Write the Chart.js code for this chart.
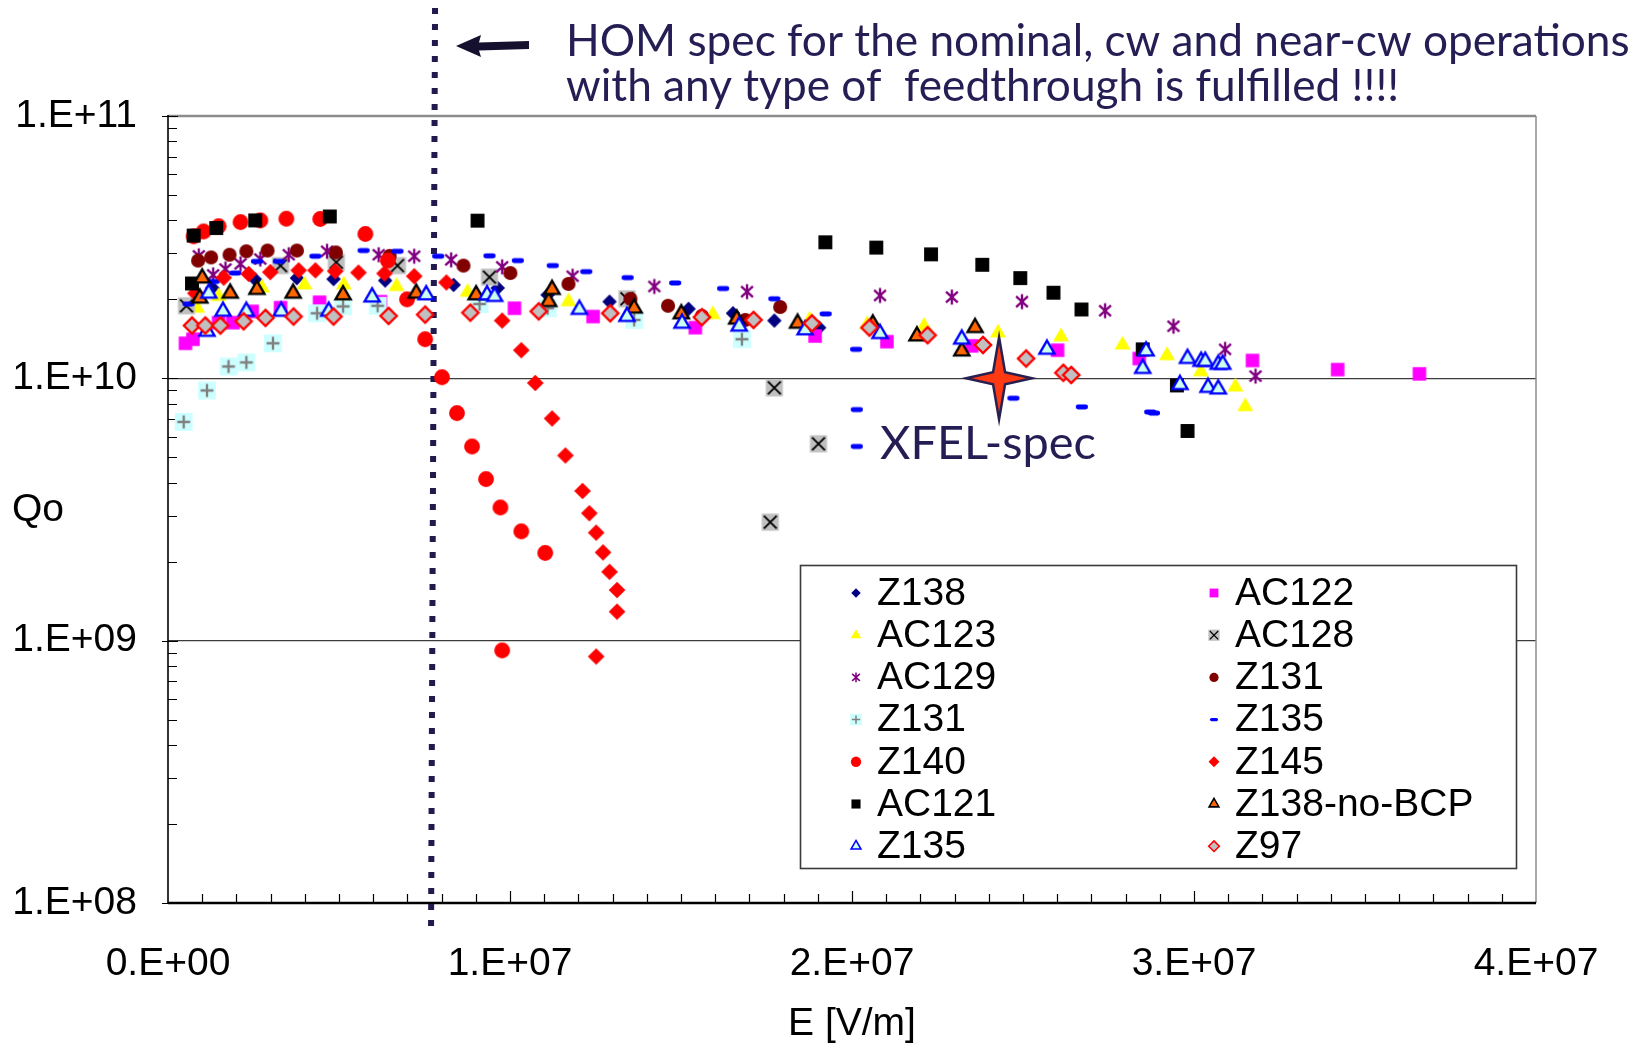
<!DOCTYPE html>
<html>
<head>
<meta charset="utf-8">
<script src="https://cdn.jsdelivr.net/npm/chart.js@4.4.1/dist/chart.umd.min.js"></script>
<style>
html, body { margin: 0; padding: 0; background: #fff; }
#c { display: block; }
</style>
</head>
<body>
<canvas id="c" width="1643" height="1046"></canvas>
<script>
// E [V/m] and Qo
var z138E = [1.30e6, 2.55e6, 3.77e6, 4.84e6, 6.35e6, 8.35e6, 9.64e6, 1.110e7, 1.291e7, 1.522e7, 1.652e7, 1.773e7, 1.904e7];
var z138Q = [2.21e10, 2.38e10, 2.41e10, 2.39e10, 2.36e10, 2.27e10, 2.21e10, 2.08e10, 1.96e10, 1.84e10, 1.77e10, 1.66e10, 1.56e10];

var ac122E = [5.1e5, 7.3e5, 1.48e6, 1.90e6, 2.46e6, 3.29e6, 4.43e6, 6.21e6, 1.013e7, 1.243e7, 1.542e7, 1.892e7, 2.102e7, 2.350e7, 2.601e7, 2.840e7, 3.171e7, 3.420e7, 3.659e7];
var ac122Q = [1.36e10, 1.41e10, 1.63e10, 1.63e10, 1.80e10, 1.86e10, 1.95e10, 1.96e10, 1.85e10, 1.72e10, 1.56e10, 1.45e10, 1.38e10, 1.33e10, 1.28e10, 1.19e10, 1.17e10, 1.08e10, 1.04e10];

var ac123E = [8.5e5, 1.48e6, 2.75e6, 3.99e6, 5.14e6, 6.68e6, 8.76e6, 1.171e7, 1.593e7, 1.876e7, 2.044e7, 2.211e7, 2.427e7, 2.611e7, 2.791e7, 2.921e7, 3.020e7, 3.121e7, 3.150e7];
var ac123Q = [1.85e10, 2.05e10, 2.21e10, 2.27e10, 2.27e10, 2.24e10, 2.13e10, 1.96e10, 1.75e10, 1.67e10, 1.60e10, 1.58e10, 1.49e10, 1.44e10, 1.34e10, 1.22e10, 1.06e10, 9.27e9, 7.8e9];

var ac128E = [5.4e5, 3.29e6, 4.92e6, 6.71e6, 9.40e6, 1.342e7, 1.773e7, 1.902e7, 1.761e7];
var ac128Q = [1.89e10, 2.69e10, 2.77e10, 2.69e10, 2.43e10, 2.01e10, 9.2e9, 5.63e9, 2.83e9];

var ac129E = [9.0e5, 1.32e6, 1.68e6, 2.12e6, 2.70e6, 3.53e6, 4.65e6, 6.16e6, 7.20e6, 8.28e6, 9.77e6, 1.183e7, 1.422e7, 1.693e7, 2.082e7, 2.292e7, 2.497e7, 2.740e7, 2.940e7, 3.091e7, 3.180e7];
var ac129Q = [2.93e10, 2.48e10, 2.61e10, 2.73e10, 2.85e10, 2.96e10, 3.05e10, 2.96e10, 2.92e10, 2.83e10, 2.66e10, 2.45e10, 2.24e10, 2.14e10, 2.07e10, 2.04e10, 1.96e10, 1.81e10, 1.58e10, 1.29e10, 1.02e10];

var z131E = [8.8e5, 1.26e6, 1.80e6, 2.29e6, 2.91e6, 3.77e6, 4.91e6, 6.48e6, 8.64e6, 1.001e7, 1.171e7, 1.352e7, 1.462e7, 1.561e7, 1.688e7, 1.790e7];
var z131Q = [2.81e10, 2.89e10, 2.96e10, 3.05e10, 3.07e10, 3.07e10, 3.02e10, 2.93e10, 2.69e10, 2.52e10, 2.29e10, 2.01e10, 1.89e10, 1.73e10, 1.67e10, 1.87e10];

var z131bE = [4.6e5, 1.14e6, 1.77e6, 2.29e6, 3.07e6, 4.36e6, 5.12e6, 6.13e6, 9.11e6, 1.110e7, 1.363e7, 1.678e7];
var z131bQ = [6.82e9, 8.99e9, 1.11e10, 1.15e10, 1.36e10, 1.77e10, 1.88e10, 1.89e10, 1.92e10, 1.85e10, 1.67e10, 1.41e10];

var z135E = [6.0e5, 1.34e6, 1.97e6, 2.60e6, 3.24e6, 4.31e6, 5.72e6, 6.71e6, 7.90e6, 9.40e6, 1.023e7, 1.125e7, 1.223e7, 1.344e7, 1.483e7, 1.623e7, 1.773e7, 1.923e7, 2.012e7, 2.014e7, 2.014e7, 2.472e7, 2.672e7, 2.872e7, 2.883e7];
var z135Q = [1.92e10, 2.34e10, 2.52e10, 2.79e10, 2.79e10, 2.92e10, 3.07e10, 3.05e10, 2.92e10, 2.93e10, 2.81e10, 2.69e10, 2.55e10, 2.42e10, 2.31e10, 2.20e10, 2.01e10, 1.76e10, 1.29e10, 7.6e9, 5.5e9, 8.4e9, 7.78e9, 7.44e9, 7.37e9];

var z140E = [7.5e5, 1.04e6, 1.48e6, 2.12e6, 2.70e6, 3.46e6, 4.45e6, 5.77e6, 6.43e6, 6.99e6, 7.52e6, 8.01e6, 8.45e6, 8.89e6, 9.30e6, 9.72e6, 1.033e7, 1.103e7, 9.77e6];
var z140Q = [3.48e10, 3.63e10, 3.80e10, 3.94e10, 4.00e10, 4.06e10, 4.05e10, 3.55e10, 2.81e10, 2.00e10, 1.41e10, 1.01e10, 7.37e9, 5.5e9, 4.13e9, 3.22e9, 2.61e9, 2.16e9, 9.18e8];

var z145E = [8.0e5, 1.63e6, 2.36e6, 2.99e6, 3.82e6, 4.31e6, 4.89e6, 5.57e6, 6.33e6, 7.20e6, 8.14e6, 9.77e6, 1.033e7, 1.074e7, 1.123e7, 1.162e7, 1.212e7, 1.232e7, 1.252e7, 1.272e7, 1.291e7, 1.313e7, 1.313e7, 1.252e7];
var z145Q = [2.11e10, 2.42e10, 2.50e10, 2.54e10, 2.58e10, 2.58e10, 2.56e10, 2.53e10, 2.51e10, 2.45e10, 2.32e10, 1.66e10, 1.28e10, 9.6e9, 7.03e9, 5.08e9, 3.72e9, 3.06e9, 2.58e9, 2.17e9, 1.83e9, 1.56e9, 1.29e9, 8.7e8];

var ac121E = [7.0e5, 7.5e5, 1.41e6, 2.55e6, 4.73e6, 9.05e6, 1.922e7, 2.071e7, 2.231e7, 2.381e7, 2.492e7, 2.589e7, 2.671e7, 2.850e7, 2.950e7, 2.981e7];
var ac121Q = [2.30e10, 3.50e10, 3.74e10, 4.00e10, 4.14e10, 3.99e10, 3.30e10, 3.15e10, 2.97e10, 2.71e10, 2.41e10, 2.12e10, 1.83e10, 1.29e10, 9.4e9, 6.3e9];

var z138nE = [9.3e5, 1.00e6, 1.82e6, 2.60e6, 3.66e6, 5.12e6, 7.26e6, 9.01e6, 1.113e7, 1.123e7, 1.363e7, 1.501e7, 1.663e7, 1.841e7, 2.061e7, 2.190e7, 2.321e7, 2.360e7];
var z138nQ = [2.02e10, 2.41e10, 2.11e10, 2.18e10, 2.11e10, 2.08e10, 2.11e10, 2.08e10, 1.96e10, 2.18e10, 1.85e10, 1.76e10, 1.68e10, 1.62e10, 1.61e10, 1.45e10, 1.27e10, 1.56e10];

var z135tE = [1.14e6, 1.19e6, 1.61e6, 2.29e6, 3.31e6, 4.70e6, 5.97e6, 7.55e6, 9.33e6, 9.55e6, 1.203e7, 1.342e7, 1.503e7, 1.670e7, 1.863e7, 2.082e7, 2.321e7, 2.570e7, 2.850e7, 2.860e7, 2.959e7, 2.981e7, 3.021e7, 3.033e7, 3.041e7, 3.071e7, 3.084e7, 3.071e7];
var z135tQ = [1.51e10, 2.11e10, 1.80e10, 1.80e10, 1.80e10, 1.80e10, 2.04e10, 2.08e10, 2.08e10, 2.05e10, 1.83e10, 1.72e10, 1.62e10, 1.58e10, 1.53e10, 1.48e10, 1.41e10, 1.29e10, 1.09e10, 1.27e10, 9.46e9, 1.19e10, 1.16e10, 1.16e10, 9.23e9, 1.13e10, 1.13e10, 9.10e9];

var z97E = [7.0e5, 1.09e6, 1.53e6, 2.21e6, 2.85e6, 3.67e6, 4.84e6, 6.45e6, 7.52e6, 8.84e6, 1.084e7, 1.293e7, 1.561e7, 1.712e7, 1.883e7, 2.051e7, 2.221e7, 2.383e7, 2.509e7, 2.618e7, 2.641e7];
var z97Q = [1.59e10, 1.59e10, 1.59e10, 1.65e10, 1.70e10, 1.72e10, 1.72e10, 1.73e10, 1.75e10, 1.78e10, 1.80e10, 1.77e10, 1.71e10, 1.67e10, 1.62e10, 1.56e10, 1.46e10, 1.34e10, 1.19e10, 1.05e10, 1.03e10];

// legend order (Excel fills the two columns row by row)
var seriesNames = ['Z138', 'AC122', 'AC123', 'AC128', 'AC129', 'Z131', 'Z131', 'Z135', 'Z140', 'Z145', 'AC121', 'Z138-no-BCP', 'Z135', 'Z97'];
var seriesE = [z138E, ac122E, ac123E, ac128E, ac129E, z131E, z131bE, z135E, z140E, z145E, ac121E, z138nE, z135tE, z97E];
var seriesQ = [z138Q, ac122Q, ac123Q, ac128Q, ac129Q, z131Q, z131bQ, z135Q, z140Q, z145Q, ac121Q, z138nQ, z135tQ, z97Q];
var seriesMarker = ['navyDiamond', 'magentaSquare', 'yellowTri', 'greyX', 'purpleStar', 'brownCircle', 'cyanPlus', 'blueDash',
                    'redCircle', 'redDiamond', 'blackSquare', 'orangeTri', 'openTri', 'greyDiamond'];

var xTicks = [0, 1e7, 2e7, 3e7, 4e7];
var xTickLabels = ['0.E+00', '1.E+07', '2.E+07', '3.E+07', '4.E+07'];
var yTicks = [1e8, 1e9, 1e10, 1e11];
var yTickLabels = ['1.E+08', '1.E+09', '1.E+10', '1.E+11'];

var homLineE = 7.75e6;          // dotted HOM limit
var xfelSpecE = 2.43e7;         // star
var xfelSpecQ = 1e10;

var FONT = 'Liberation Sans, Arial, sans-serif';
var NOTE_FONT = 'Lato, "Open Sans", sans-serif';
var INK = '#241e55';

function drawMarker(c, kind, x, y, s) {
    c.save();
    c.lineJoin = 'miter';
    function diamond(r) {
        c.beginPath();
        c.moveTo(x, y - r); c.lineTo(x + r, y); c.lineTo(x, y + r); c.lineTo(x - r, y);
        c.closePath();
    }
    function tri(r) {
        c.beginPath();
        c.moveTo(x, y - r);
        c.lineTo(x + r * 0.866, y + r * 0.5);
        c.lineTo(x - r * 0.866, y + r * 0.5);
        c.closePath();
    }
    function fill(col) { c.fillStyle = col; c.fill(); }
    function stroke(col, w) { c.strokeStyle = col; c.lineWidth = w; c.stroke(); }
    var h;
    switch (kind) {
        case 'navyDiamond': diamond(6.8 * s); fill('#000080'); break;
        case 'magentaSquare': h = 6.3 * s; c.fillStyle = '#ff00ff'; c.fillRect(x - h, y - h, 2 * h, 2 * h); break;
        case 'blackSquare': h = 6.5 * s; c.fillStyle = '#000'; c.fillRect(x - h, y - h, 2 * h, 2 * h); break;
        case 'yellowTri': tri(8.6 * s); fill('#ffff00'); break;
        case 'orangeTri': tri(8.2 * s); fill('#ff6600'); stroke('#000', 2.2 * s); break;
        case 'openTri': tri(8.2 * s); fill('#ccffee'); stroke('#0000ff', 2.2 * s); break;
        case 'greyX':
            h = 8 * s; c.fillStyle = '#c0c0c0'; c.fillRect(x - h, y - h, 2 * h, 2 * h);
            c.beginPath();
            c.moveTo(x - h + 2 * s, y - h + 2 * s); c.lineTo(x + h - 2 * s, y + h - 2 * s);
            c.moveTo(x + h - 2 * s, y - h + 2 * s); c.lineTo(x - h + 2 * s, y + h - 2 * s);
            stroke('#000', 1.8 * s);
            break;
        case 'cyanPlus':
            h = 8.3 * s; c.fillStyle = '#ccffff'; c.fillRect(x - h, y - h, 2 * h, 2 * h);
            c.beginPath();
            c.moveTo(x - 6 * s, y); c.lineTo(x + 6 * s, y);
            c.moveTo(x, y - 6 * s); c.lineTo(x, y + 6 * s);
            stroke('#808080', 2.2 * s);
            break;
        case 'purpleStar':
            c.beginPath();
            c.moveTo(x, y - 7 * s); c.lineTo(x, y + 7 * s);
            c.moveTo(x - 5.5 * s, y - 5 * s); c.lineTo(x + 5.5 * s, y + 5 * s);
            c.moveTo(x + 5.5 * s, y - 5 * s); c.lineTo(x - 5.5 * s, y + 5 * s);
            stroke('#800080', 2.2 * s);
            break;
        case 'blueDash':
            c.beginPath();
            c.moveTo(x - 3.5 * s, y); c.lineTo(x + 3.5 * s, y);
            c.lineCap = 'round';
            stroke('#0000ff', 4.5 * s);
            break;
        case 'brownCircle': c.beginPath(); c.arc(x, y, 6.6 * s, 0, Math.PI * 2); fill('#800000'); break;
        case 'redCircle': c.beginPath(); c.arc(x, y, 7.4 * s, 0, Math.PI * 2); fill('#ff0000'); break;
        case 'redDiamond': diamond(7.8 * s); fill('#ff0000'); break;
        case 'greyDiamond': diamond(7.6 * s); fill('#c0c0c0'); stroke('#ff0000', 2.2 * s); break;
    }
    c.restore();
}

function markerImage(kind) {
    var size = 26;
    var cv = document.createElement('canvas');
    cv.width = size; cv.height = size;
    drawMarker(cv.getContext('2d'), kind, size / 2, size / 2, 1.07);
    return cv;
}

var datasets = seriesNames.map(function (name, i) {
    return {
        label: name,
        data: seriesE[i].map(function (e, j) { return { x: e, y: seriesQ[i][j] }; }),
        pointStyle: markerImage(seriesMarker[i]),
        pointRadius: 8,
        showLine: false,
        order: seriesNames.length - i
    };
});

function star4(c, x, y, rx, ry, inner) {
    c.beginPath();
    c.moveTo(x, y - ry);
    c.lineTo(x + inner, y - inner);
    c.lineTo(x + rx, y);
    c.lineTo(x + inner, y + inner);
    c.lineTo(x, y + ry);
    c.lineTo(x - inner, y + inner);
    c.lineTo(x - rx, y);
    c.lineTo(x - inner, y - inner);
    c.closePath();
}

var framePlugin = {
    id: 'frame',
    beforeDraw: function (chart) {
        var c = chart.ctx;
        c.save();
        c.fillStyle = '#fff';
        c.fillRect(0, 0, chart.width, chart.height);
        c.restore();
    },
    beforeDatasetsDraw: function (chart) {
        var c = chart.ctx, a = chart.chartArea;
        var xs = chart.scales.x, ys = chart.scales.y;
        c.save();
        // frame
        c.strokeStyle = '#8c8c8c'; c.lineWidth = 2.5;
        c.beginPath(); c.moveTo(a.left, a.top); c.lineTo(a.right, a.top); c.stroke();
        c.lineWidth = 1.5;
        c.beginPath(); c.moveTo(a.right, a.top); c.lineTo(a.right, a.bottom); c.stroke();
        c.strokeStyle = '#000';
        c.lineWidth = 1.6;
        c.beginPath(); c.moveTo(a.left, a.top - 1); c.lineTo(a.left, a.bottom); c.stroke();
        c.lineWidth = 2.6;
        c.beginPath(); c.moveTo(a.left, a.bottom); c.lineTo(a.right, a.bottom); c.stroke();
        // minor ticks, inside the plot
        c.lineWidth = 1.2;
        c.beginPath();
        for (var e = 1e6; e < 4e7; e += 1e6) {
            var px = Math.round(xs.getPixelForValue(e)) + 0.5;
            var len = (Math.round(e / 1e6) % 10 === 0) ? 12 : 9;
            c.moveTo(px, a.bottom); c.lineTo(px, a.bottom - len);
        }
        for (var d = 1e8; d < 1e11; d *= 10) {
            for (var m = 2; m <= 9; m++) {
                var py = Math.round(ys.getPixelForValue(d * m)) + 0.5;
                c.moveTo(a.left, py); c.lineTo(a.left + 9, py);
            }
        }
        yTicks.forEach(function (v) {
            var py = Math.round(ys.getPixelForValue(v)) + 0.5;
            c.moveTo(a.left - 6, py); c.lineTo(a.left + 10, py);
        });
        c.stroke();
        // dotted HOM line
        var hx = xs.getPixelForValue(homLineE);
        c.strokeStyle = '#201a4e';
        c.lineWidth = 6;
        c.setLineDash([6, 10]);
        c.beginPath();
        c.moveTo(hx + 2, 8);
        c.lineTo(hx - 2, a.bottom + 26);
        c.stroke();
        c.restore();
    },
    afterDatasetsDraw: function (chart) {
        var c = chart.ctx, a = chart.chartArea;
        var xs = chart.scales.x, ys = chart.scales.y;
        c.save();

        // XFEL spec star
        var sx = xs.getPixelForValue(xfelSpecE), sy = ys.getPixelForValue(xfelSpecQ);
        star4(c, sx, sy, 33, 41, 6);
        c.fillStyle = '#ff3a12'; c.fill();
        c.strokeStyle = '#2a2050'; c.lineWidth = 2.5; c.lineJoin = 'miter'; c.stroke();

        // arrow + note
        c.fillStyle = '#15102e';
        c.beginPath();
        c.moveTo(456, 46);
        c.lineTo(481, 35);
        c.lineTo(479, 42.5);
        c.lineTo(529, 41);
        c.lineTo(529, 49);
        c.lineTo(479, 50.5);
        c.lineTo(481, 57);
        c.closePath();
        c.fill();

        var line1 = 'HOM spec for the nominal, cw and near-cw operations';
        var line2 = 'with any type of  feedthrough is fulfilled !!!!';
        c.font = '40px ' + NOTE_FONT;
        var fs = Math.min(50, 40 * 1064 / c.measureText(line1).width);
        c.font = fs.toFixed(1) + 'px ' + NOTE_FONT;
        c.fillStyle = INK;
        c.textBaseline = 'middle';
        c.textAlign = 'left';
        c.fillText(line1, 566, 42);
        c.fillText(line2, 566, 87);

        // XFEL-spec label
        c.font = '40px ' + NOTE_FONT;
        var fs2 = Math.min(48, 40 * 216 / c.measureText('XFEL-spec').width);
        c.font = fs2.toFixed(1) + 'px ' + NOTE_FONT;
        c.fillText('XFEL-spec', 880, 444);

        // axis title Qo
        c.font = '39px ' + FONT;
        c.fillStyle = '#000';
        c.fillText('Qo', 12, 510);

        // legend box
        var lx = 800, ly = 565, lw = 716, lh = 303;
        c.fillStyle = '#fff';
        c.fillRect(lx, ly, lw, lh);
        c.strokeStyle = '#3a3a3a'; c.lineWidth = 1.6;
        c.strokeRect(lx + 0.5, ly + 0.5, lw, lh);
        var colSym = [856, 1214], colText = [877, 1235];
        c.font = '39px ' + FONT;
        c.fillStyle = '#000';
        c.textBaseline = 'middle';
        seriesNames.forEach(function (name, i) {
            var col = i % 2, row = Math.floor(i / 2);
            var ry = 593 + row * 42.2;
            drawMarker(c, seriesMarker[i], colSym[col], ry, 0.7);
            c.fillStyle = '#000';
            c.fillText(name, colText[col], ry + 1);
        });
        c.restore();
    }
};

var ctx = document.getElementById('c').getContext('2d');
var chart = new Chart(ctx, {
    type: 'scatter',
    data: { datasets: datasets },
    options: {
        responsive: false,
        animation: false,
        layout: { padding: { left: 0, right: 107, top: 116, bottom: 0 } },
        plugins: {
            legend: { display: false },
            tooltip: { enabled: false }
        },
        scales: {
            x: {
                type: 'linear',
                min: 0,
                max: 4e7,
                afterBuildTicks: function (s) { s.ticks = xTicks.map(function (v) { return { value: v }; }); },
                afterFit: function (s) { s.height = 143; },
                grid: { display: false, drawTicks: false },
                border: { display: false },
                ticks: {
                    font: { family: FONT, size: 39 },
                    color: '#000',
                    padding: 38,
                    maxRotation: 0,
                    autoSkip: false,
                    callback: function (v, i) { return xTickLabels[i]; }
                },
                title: {
                    display: true,
                    text: 'E [V/m]',
                    color: '#000',
                    font: { family: FONT, size: 39, lineHeight: 1.1 },
                    padding: { top: 0, bottom: 0 }
                }
            },
            y: {
                type: 'logarithmic',
                min: 1e8,
                max: 1e11,
                afterBuildTicks: function (s) { s.ticks = yTicks.map(function (v) { return { value: v }; }); },
                afterFit: function (s) { s.width = 168; },
                grid: {
                    drawTicks: false,
                    lineWidth: 1.3,
                    color: function (cx) {
                        var v = cx.tick && cx.tick.value;
                        return (v === 1e9 || v === 1e10) ? '#3c3c3c' : 'rgba(0,0,0,0)';
                    }
                },
                border: { display: false },
                ticks: {
                    font: { family: FONT, size: 39 },
                    color: '#000',
                    padding: 31,
                    autoSkip: false,
                    callback: function (v, i) { return yTickLabels[i]; }
                }
            }
        }
    },
    plugins: [framePlugin]
});
</script>
</body>
</html>
